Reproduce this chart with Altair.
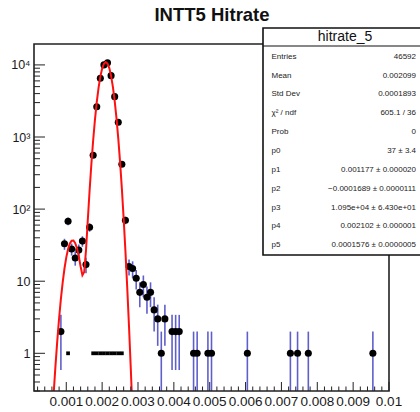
import json
import math
import altair as alt
import pandas as pd

# ---------------- data ----------------
bin_x = [0.00085, 0.00095, 0.00105, 0.00115, 0.00125, 0.00135, 0.00145, 0.00155, 0.00165,
         0.00175, 0.00185, 0.00195, 0.00205, 0.00215, 0.00225, 0.00235, 0.00245, 0.00255,
         0.00265, 0.00275, 0.00285, 0.00295, 0.00305, 0.00315, 0.00325, 0.00335, 0.00345,
         0.00355, 0.00365, 0.00375, 0.00395, 0.00405, 0.00415, 0.00455, 0.00465, 0.00495,
         0.00505, 0.00605, 0.00725, 0.00745, 0.00775, 0.00955]
counts = [2, 33, 68, 28, 21, 27, 36, 17, 56,
          560, 2630, 6530, 10000, 10700, 7100, 3630, 1600, 420,
          70, 16, 15, 11, 7, 9, 6, 7, 4,
          3, 1, 3, 2, 2, 2, 1, 1, 1,
          1, 1, 1, 1, 1, 1]

marker_x = [0.00105, 0.00175, 0.00185, 0.00195, 0.00205, 0.00215, 0.00225, 0.00235, 0.00245, 0.00255]
marker_y = [1, 1, 1, 1, 1, 1, 1, 1, 1, 1]

fit_x = [0.00060, 0.00065, 0.00070, 0.00075, 0.00080, 0.00085, 0.00090, 0.00095, 0.00100,
         0.00105, 0.00110, 0.00115, 0.00120, 0.00125, 0.00130, 0.00135, 0.00140, 0.00145,
         0.00150, 0.00155, 0.00160, 0.00165, 0.00170, 0.00175, 0.00180, 0.00185, 0.00190,
         0.00195, 0.00200, 0.00205, 0.00210, 0.00215, 0.00220, 0.00225, 0.00230, 0.00235,
         0.00240, 0.00245, 0.00250, 0.00255, 0.00260, 0.00265, 0.00270, 0.00275, 0.00280,
         0.00285]
fit_y = [0.108, 0.285, 0.686, 1.51, 3.06, 5.68, 9.64, 15.0, 21.4,
         27.9, 33.3, 36.5, 36.7, 33.7, 28.4, 22.0, 16.0, 12.1,
         13.4, 26.9, 70.2, 180, 423, 903, 1745, 3051, 4815,
         6877, 8882, 10370, 10949, 10454, 9025, 7046, 4975, 3175,
         1832, 956, 452, 193, 74.4, 26.0, 8.19, 2.34, 0.60,
         0.14]

x_major = [0.001, 0.002, 0.003, 0.004, 0.005, 0.006, 0.007, 0.008, 0.009, 0.01]
x_labels = ["0.001", "0.002", "0.003", "0.004", "0.005", "0.006", "0.007", "0.008", "0.009", "0.01"]
x_minor = [round(i * 0.0002, 4) for i in range(1, 50) if i % 5]
y_major = [1, 10, 100, 1000, 10000]
y_labels = ["1", "10", "10²", "10³", "10⁴"]
y_minor = [m * 10.0 ** k for k in range(-1, 4) for m in range(2, 10) if m * 10.0 ** k >= 0.3]

title_text = "INTT5 Hitrate"
stats_title = "hitrate_5"
stat_names = ["Entries", "Mean", "Std Dev", "χ² / ndf", "Prob", "p0", "p1", "p2", "p3", "p4", "p5"]
stat_values = ["46592", "0.002099", "0.0001893", "605.1 / 36", "0", "37 ± 3.4",
               "0.001177 ± 0.000020", "−0.0001689 ± 0.0000111", "1.095e+04 ± 6.430e+01",
               "0.002102 ± 0.000001", "0.0001576 ± 0.0000005"]

# ---------------- chart ----------------
FONT = "Liberation Sans"
W, H = 355, 347
xs = alt.Scale(domain=[0.0001, 0.01], nice=False, zero=False)
ys = alt.Scale(type="log", domain=[0.3, 19500], nice=False)

pts = pd.DataFrame({"x": bin_x, "y": counts})
pts["lo"] = [max(v - math.sqrt(v), 0.01) for v in counts]
pts["hi"] = [v + math.sqrt(v) for v in counts]

y_axis = alt.Axis(values=y_major,
                  labelExpr=f"{json.dumps(y_labels, ensure_ascii=False)}[round(log(datum.value)/LN10)]",
                  ticks=False, domain=False, grid=False, title=None, labelFont=FONT,
                  labelFontSize=12.5, labelColor="#1a1a1a", labelPadding=4,
                  labelOverlap=False, labelFlush=False, labelBound=False)

err = alt.Chart(pts).mark_rule(color="#5f5fcc", strokeWidth=1.6, clip=True).encode(
    x=alt.X("x:Q", scale=xs, axis=None),
    y=alt.Y("lo:Q", scale=ys, axis=y_axis),
    y2="hi:Q",
)
dots = alt.Chart(pts).mark_circle(size=50, color="black", opacity=1, clip=True).encode(
    x=alt.X("x:Q", scale=xs), y=alt.Y("y:Q", scale=ys))
small = alt.Chart(pd.DataFrame({"x": marker_x, "y": marker_y})).mark_square(
    size=14, color="black", opacity=1, clip=True).encode(
    x=alt.X("x:Q", scale=xs), y=alt.Y("y:Q", scale=ys))
fit = alt.Chart(pd.DataFrame({"x": fit_x, "y": fit_y})).mark_line(
    color="#ff1010", strokeWidth=2, clip=True).encode(
    x=alt.X("x:Q", scale=xs), y=alt.Y("y:Q", scale=ys))

xt_major = alt.Chart(pd.DataFrame({"v": x_major})).mark_rule(color="#222", strokeWidth=1).encode(
    x=alt.X("v:Q", scale=xs), y=alt.value(H), y2=alt.value(H - 9))
xt_minor = alt.Chart(pd.DataFrame({"v": x_minor})).mark_rule(color="#222", strokeWidth=1).encode(
    x=alt.X("v:Q", scale=xs), y=alt.value(H), y2=alt.value(H - 4.5))
x_text = alt.Chart(pd.DataFrame({"v": x_major, "t": x_labels})).mark_text(
    font=FONT, fontSize=13.5, color="#1a1a1a", align="center", baseline="middle", clip=False).encode(
    x=alt.X("v:Q", scale=xs), y=alt.value(H + 11), text="t:N")
yt_major = alt.Chart(pd.DataFrame({"v": y_major})).mark_rule(color="#222", strokeWidth=1).encode(
    y=alt.Y("v:Q", scale=ys), x=alt.value(0), x2=alt.value(11))
yt_minor = alt.Chart(pd.DataFrame({"v": y_minor})).mark_rule(color="#222", strokeWidth=1).encode(
    y=alt.Y("v:Q", scale=ys), x=alt.value(0), x2=alt.value(6))

frame = alt.Chart(pd.DataFrame({"a": [0]})).mark_rect(
    fillOpacity=0, stroke="#222", strokeWidth=1.6).encode(
    x=alt.value(0), x2=alt.value(W), y=alt.value(0), y2=alt.value(H))

box = alt.Chart(pd.DataFrame({"a": [0]})).mark_rect(
    fill="white", stroke="#111", strokeWidth=1.6, clip=False).encode(
    x=alt.value(229), x2=alt.value(396), y=alt.value(-16), y2=alt.value(211))
divider = alt.Chart(pd.DataFrame({"a": [0]})).mark_rule(color="#111", strokeWidth=1.2).encode(
    x=alt.value(229), x2=alt.value(396), y=alt.value(2))
box_title = alt.Chart(pd.DataFrame({"t": [stats_title]})).mark_text(
    font=FONT, fontSize=14, color="#111", align="center", baseline="middle").encode(
    text="t:N", x=alt.value(311), y=alt.value(-7))

rows = []
for i, (nm, val) in enumerate(zip(stat_names, stat_values)):
    yy = 12.7 + i * 18.85
    rows.append(alt.Chart(pd.DataFrame({"t": [nm]})).mark_text(
        font=FONT, fontSize=8, color="#222", align="left", baseline="middle").encode(
        text="t:N", x=alt.value(237.5), y=alt.value(yy)))
    rows.append(alt.Chart(pd.DataFrame({"t": [val]})).mark_text(
        font=FONT, fontSize=8, color="#222", align="right", baseline="middle").encode(
        text="t:N", x=alt.value(382), y=alt.value(yy)))

main_title = alt.Chart(pd.DataFrame({"t": [title_text]})).mark_text(
    font=FONT, fontSize=18.5, fontWeight="bold", color="#111", align="center",
    baseline="middle").encode(text="t:N", x=alt.value(178), y=alt.value(-29))

chart = alt.layer(err, dots, small, fit, xt_major, xt_minor, x_text, yt_major, yt_minor, frame,
                  box, divider, box_title, *rows, main_title).properties(
    width=W, height=H,
    autosize=alt.AutoSizeParams(type="none"),
    padding={"left": 34, "top": 44, "right": 31, "bottom": 21},
    background="white",
).configure_view(stroke=None)

chart.save("out.html", embed_options={"renderer": "svg", "actions": False})
